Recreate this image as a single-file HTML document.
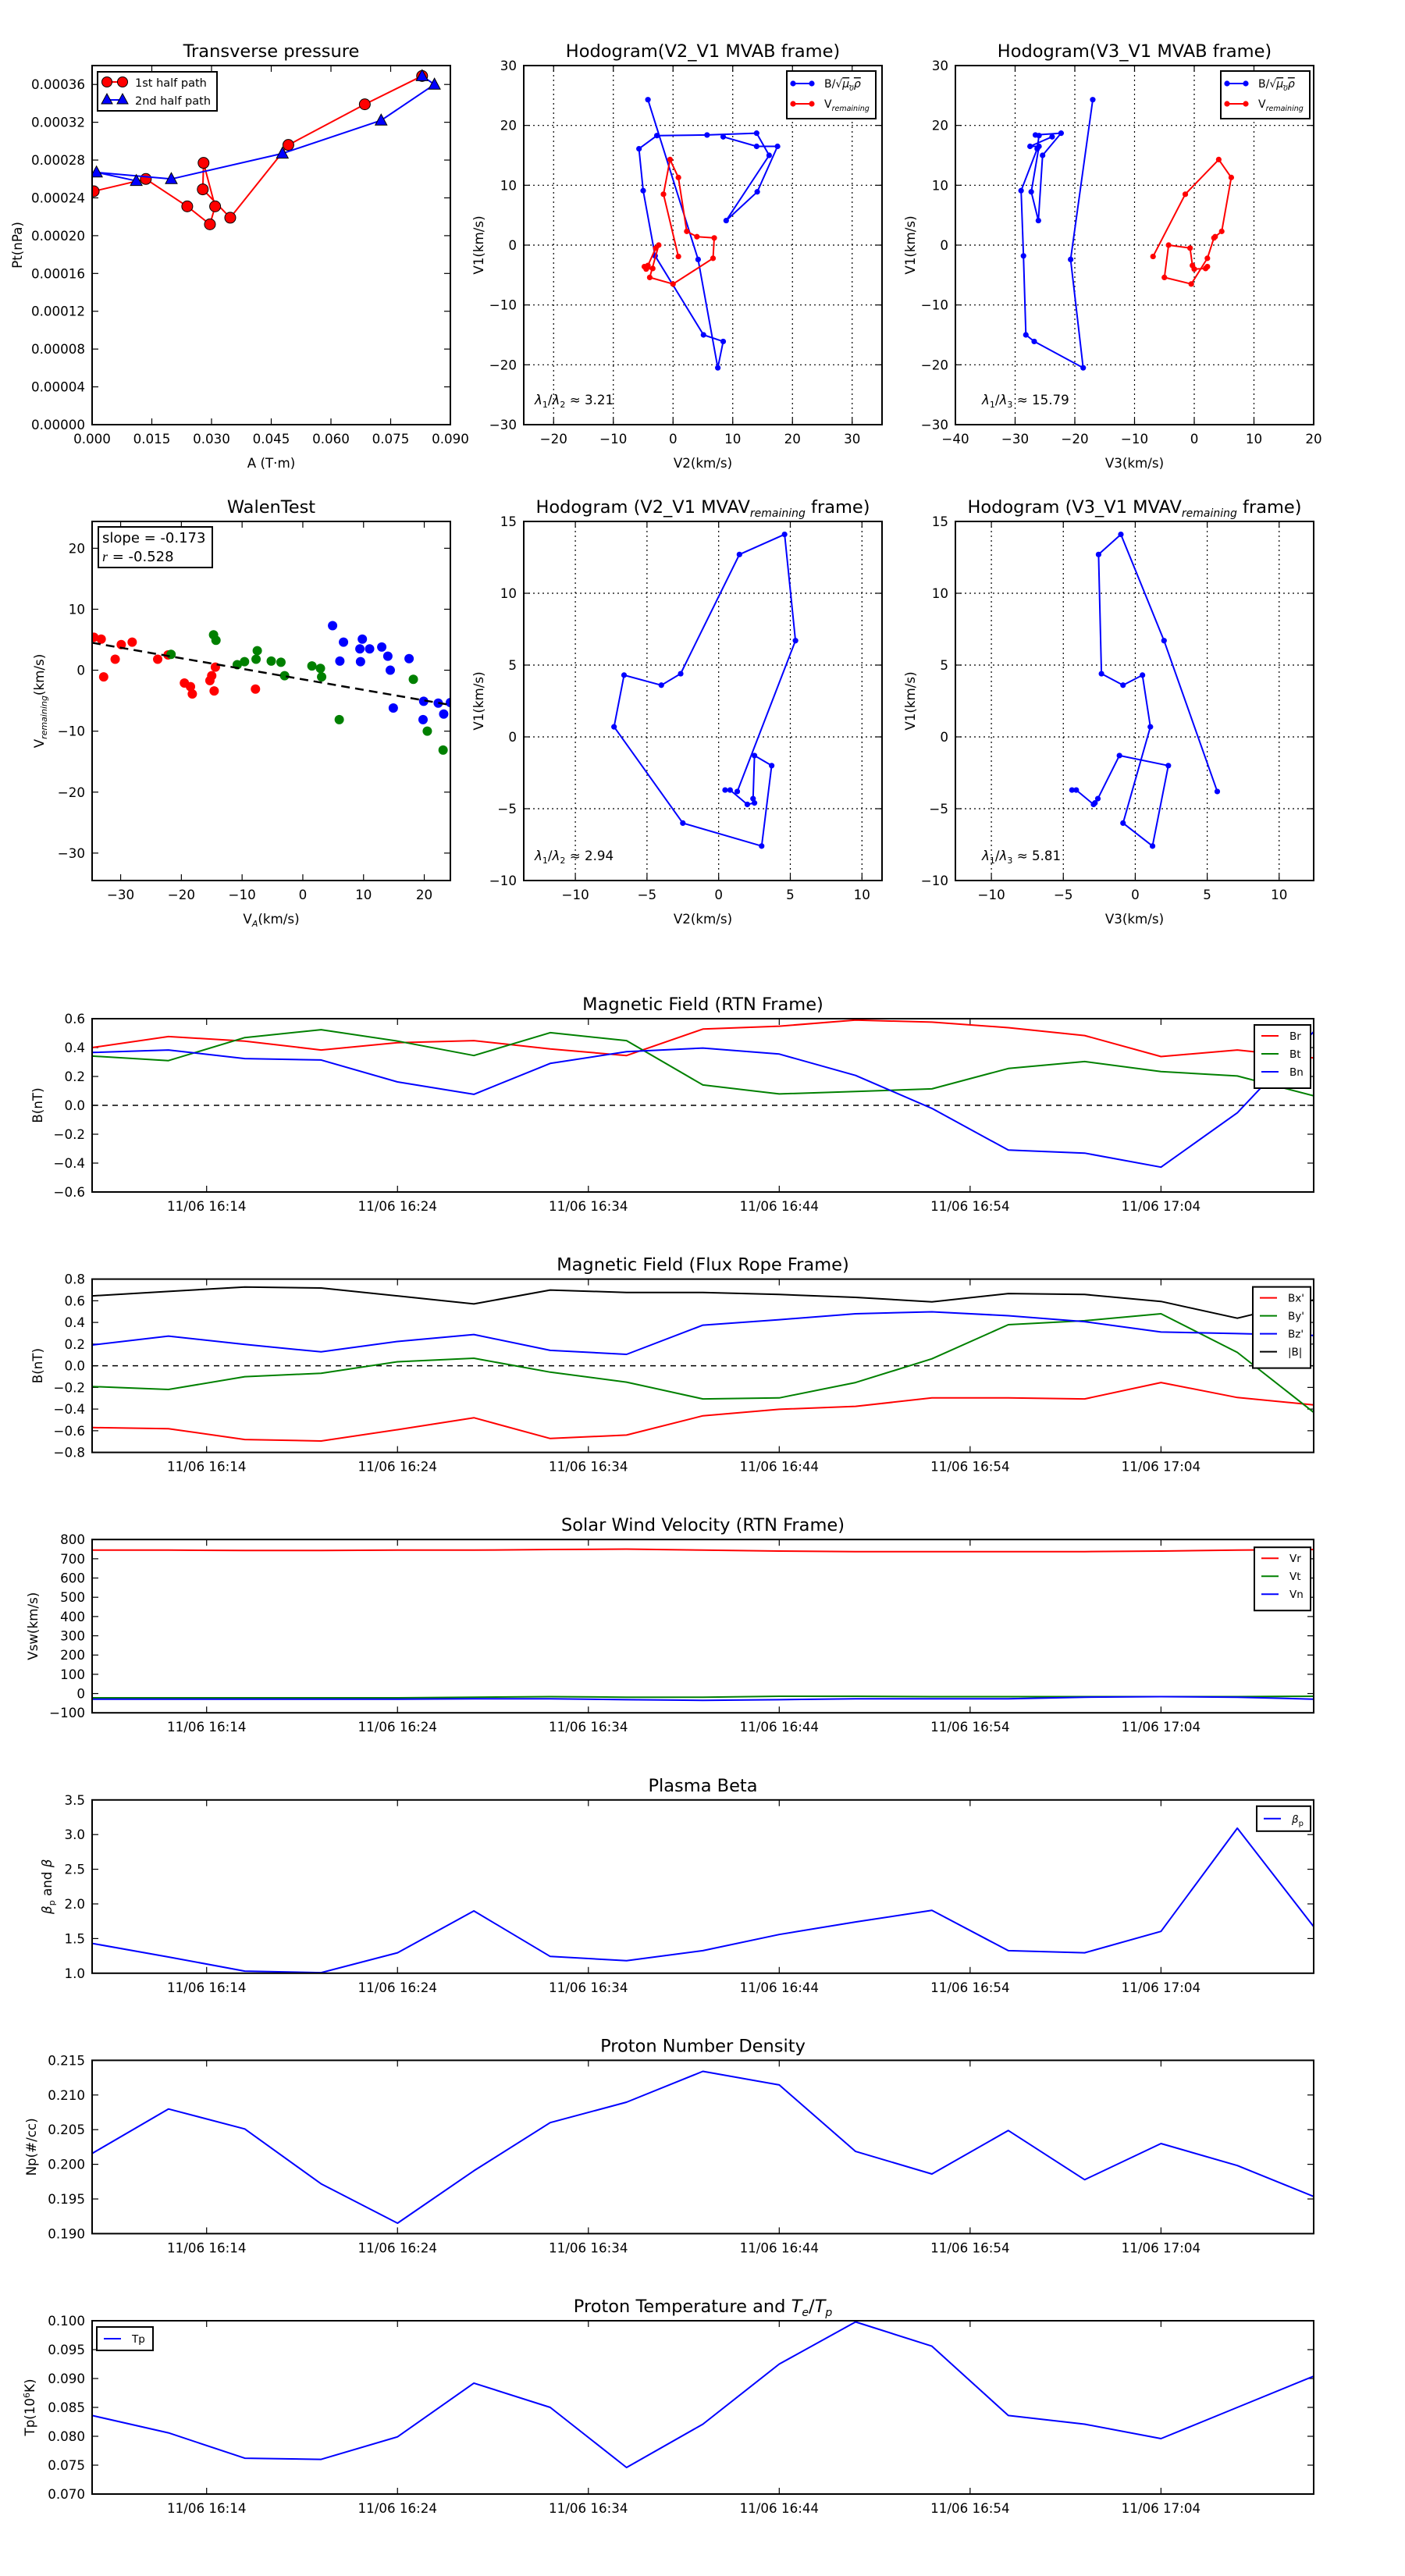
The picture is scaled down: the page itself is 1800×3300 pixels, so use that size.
<!DOCTYPE html>
<html>
<head>
<meta charset="utf-8">
<style>
html,body{margin:0;padding:0;background:#fff;}
svg{display:block;}
text{font-family:"DejaVu Sans","Liberation Sans",sans-serif;fill:#000;}
</style>
</head>
<body>
<svg id="fig" xmlns="http://www.w3.org/2000/svg" width="1800" height="3300" viewBox="0 0 1800 3300">
<rect x="0" y="0" width="1800" height="3300" fill="#fff"/>
</svg>
<script>
// ---------------- DATA ----------------
// Transverse pressure
const tpRedA = [0.0004,0.0135,0.0239,0.0296,0.0309,0.028,0.0278,0.0347,0.0493,0.0685,0.0829];
const tpRedP = [0.000247,0.00026,0.000231,0.000212,0.000231,0.000277,0.000249,0.000219,0.000296,0.000339,0.000369];
const tpBlueA = [0.0829,0.086,0.0726,0.0478,0.0199,0.0011,0.0111];
const tpBlueP = [0.000369,0.00036,0.000322,0.000287,0.00026,0.000267,0.000258];
const tpXLabels = ['0.000','0.015','0.030','0.045','0.060','0.075','0.090'];
const tpYLabels = ['0.00000','0.00004','0.00008','0.00012','0.00016','0.00020','0.00024','0.00028','0.00032','0.00036'];

// Hodogram MVAB
const hbV1 = [24.3,-2.4,-20.5,-16.1,-15,-1.8,9.1,16.1,18.3,18.4,18.7,15,4.1,8.9,16.5,16.5,18.1];
const hbV2 = [-4.2,4.2,7.5,8.4,5.1,-3,-5,-5.7,-2.7,5.7,14,16.1,8.9,14.1,17.5,14,8.4];
const hbV3 = [-17,-20.7,-18.6,-26.8,-28.2,-28.6,-29,-26.3,-26.0,-26.6,-22.3,-25.4,-26.1,-27.3,-26,-27.5,-23.8];
const hrV1 = [-1.9,8.5,14.3,11.3,2.3,1.4,1.2,-2.2,-6.5,-5.4,0,-0.5,-3.4,-4,-3.9,-3.6];
const hrV2 = [0.9,-1.6,-0.5,0.9,2.3,4,6.9,6.7,0,-3.9,-2.4,-2.9,-4.2,-4.5,-3.4,-4.8];
const hrV3 = [-6.9,-1.5,4.1,6.2,4.6,3.5,3.3,2.2,-0.5,-5,-4.3,-0.7,-0.3,0,1.9,2.2];
const h1XLabels = ['−20','−10','0','10','20','30'];
const h2XLabels = ['−40','−30','−20','−10','0','10','20'];
const h12YLabels = ['−30','−20','−10','0','10','20','30'];

// Hodogram MVAV
const hvV1 = [-3.7,-3.7,-4.7,-4.6,-4.3,-1.3,-2,-7.6,-6,0.7,4.3,3.6,4.4,12.7,14.1,6.7,-3.8];
const hvV2 = [0.45,0.8,2.0,2.5,2.4,2.5,3.7,3,-2.5,-7.3,-6.6,-4,-2.65,1.45,4.6,5.36,1.3];
const hvV3 = [-4.4,-4.1,-2.9,-2.8,-2.6,-1.1,2.3,1.2,-0.85,1.05,0.5,-0.85,-2.35,-2.55,-1,2,5.7];
const h34XLabels = ['−10','−5','0','5','10'];
const h34YLabels = ['−10','−5','0','5','10','15'];

// Walen test
const wRedX = [-34.4,-33.2,-32.8,-30.9,-29.9,-28.1,-23.9,-22.2,-19.5,-18.5,-18.2,-15.3,-15,-14.6,-14.4,-7.8];
const wRedY = [5.4,5.1,-1.1,1.8,4.2,4.6,1.8,2.5,-2.1,-2.7,-3.9,-1.7,-0.9,-3.4,0.5,-3.1];
const wGreenX = [-21.7,-14.7,-14.3,-10.8,-9.6,-7.7,-7.5,-5.2,-3.6,-3,1.5,2.9,3.1,6,18.2,20.5,23.1];
const wGreenY = [2.6,5.8,4.9,0.9,1.4,1.8,3.2,1.5,1.3,-0.9,0.7,0.3,-1.1,-8.1,-1.5,-10,-13.1];
const wBlueX = [4.9,6.7,6.1,9.4,9.8,9.5,11,13,14,14.4,14.9,17.5,19.9,19.8,22.3,23.2,24.3];
const wBlueY = [7.3,4.6,1.5,3.5,5.1,1.4,3.5,3.8,2.3,0,-6.2,1.9,-5.1,-8.1,-5.4,-7.2,-5.3];
const wSlope = [-0.173];
const wIntercept = [-1.5];
const wXLabels = ['−30','−20','−10','0','10','20'];
const wYLabels = ['−30','−20','−10','0','10','20'];

// Time series
const times = ['16:08','16:12','16:16','16:20','16:24','16:28','16:32','16:36','16:40','16:44','16:48','16:52','16:56','17:00','17:04','17:08','17:12'];
const timeTickLabels = ['11/06 16:14','11/06 16:24','11/06 16:34','11/06 16:44','11/06 16:54','11/06 17:04'];
const Br = [0.40,0.476,0.445,0.383,0.434,0.448,0.39,0.345,0.528,0.548,0.59,0.576,0.538,0.483,0.338,0.383,0.328];
const Bt = [0.341,0.31,0.469,0.524,0.445,0.345,0.503,0.448,0.141,0.079,0.096,0.114,0.255,0.303,0.234,0.203,0.066];
const Bn = [0.366,0.383,0.324,0.314,0.162,0.076,0.29,0.372,0.397,0.355,0.207,-0.021,-0.31,-0.331,-0.428,-0.052,0.51];
const rtnYLabels = ['−0.6','−0.4','−0.2','0.0','0.2','0.4','0.6'];
const Bx = [-0.571,-0.581,-0.681,-0.695,-0.59,-0.48,-0.672,-0.64,-0.462,-0.402,-0.375,-0.297,-0.297,-0.306,-0.155,-0.293,-0.361];
const By = [-0.192,-0.219,-0.101,-0.069,0.037,0.069,-0.059,-0.151,-0.306,-0.297,-0.155,0.064,0.379,0.416,0.48,0.123,-0.43];
const Bz = [0.192,0.274,0.197,0.128,0.224,0.288,0.142,0.105,0.375,0.425,0.48,0.498,0.462,0.407,0.311,0.297,0.28];
const Bmag = [0.645,0.686,0.727,0.718,0.645,0.571,0.699,0.677,0.677,0.658,0.631,0.59,0.667,0.658,0.594,0.439,0.608];
const fluxYLabels = ['−0.8','−0.6','−0.4','−0.2','0.0','0.2','0.4','0.6','0.8'];
const Vr = [745,745,743,743,745,745,748,750,745,740,737,737,737,737,740,745,748];
const Vt = [-22,-22,-22,-22,-22,-19,-16,-19,-19,-14,-14,-16,-16,-16,-16,-16,-14];
const Vn = [-29,-29,-29,-29,-29,-27,-27,-32,-35,-32,-27,-27,-27,-19,-16,-19,-29];
const swYLabels = ['−100','0','100','200','300','400','500','600','700','800'];
const betaP = [1.43,1.234,1.03,1.008,1.295,1.899,1.242,1.181,1.325,1.559,1.74,1.906,1.325,1.295,1.604,3.092,1.672];
const betaYLabels = ['1.0','1.5','2.0','2.5','3.0','3.5'];
const Np = [0.20156,0.20798,0.2051,0.19718,0.19151,0.19906,0.20601,0.20896,0.21341,0.21145,0.20186,0.1986,0.20488,0.19778,0.20299,0.19982,0.19536];
const npYLabels = ['0.190','0.195','0.200','0.205','0.210','0.215'];
const Tp = [0.0836,0.0806,0.0762,0.0760,0.0799,0.0892,0.0850,0.0746,0.0821,0.0925,0.0998,0.0956,0.0836,0.0821,0.0796,0.0850,0.0904];
const tpTYLabels = ['0.070','0.075','0.080','0.085','0.090','0.095','0.100'];

// ---------------- DRAWING ----------------
const NS = 'http://www.w3.org/2000/svg';
const svg = document.getElementById('fig');
const RED = '#ff0000', GREEN = '#008000', BLUE = '#0000ff';
let clipId = 0;
function mk(tag, attrs, parent) {
  const e = document.createElementNS(NS, tag);
  for (const k in attrs) e.setAttribute(k, attrs[k]);
  (parent || svg).appendChild(e);
  return e;
}
function num(s) { return parseFloat(String(s).replace('−', '-')); }
function tmin(s) { const p = s.split(':'); return (+p[0]) * 60 + (+p[1]) - (16 * 60 + 8); }

function axes(o) {
  const g = mk('g', {});
  
  
  const sx = v => o.x0 + (v - o.xmin) / (o.xmax - o.xmin) * o.w;
  const sy = v => o.y0 + o.h - (v - o.ymin) / (o.ymax - o.ymin) * o.h;
  const id = 'clip' + (clipId++);
  const cp = mk('clipPath', {id: id}, g);
  mk('rect', {x: o.x0, y: o.y0, width: o.w, height: o.h}, cp);
  const gridG = mk('g', {}, g);
  const xt = o.xticks, yt = o.yticks;
  xt.forEach((v, i) => {
    const x = sx(v);
    if (o.grid) {
      const gl = mk('line', {x1: x, y1: o.y0, x2: x, y2: o.y0 + o.h, stroke: '#000', 'stroke-width': 1.2, 'stroke-dasharray': '2,4'}, gridG);
      
      
    }
    const t1 = mk('line', {x1: x, y1: o.y0 + o.h, x2: x, y2: o.y0 + o.h - 8, stroke: '#000', 'stroke-width': 1.2}, g);
    
    
    const t2 = mk('line', {x1: x, y1: o.y0, x2: x, y2: o.y0 + 8, stroke: '#000', 'stroke-width': 1.2}, g);
    
    
    const tl = mk('text', {x: x, y: o.y0 + o.h + 24, 'font-size': 16.7, 'text-anchor': 'middle'}, g);
    tl.textContent = o.xlabels[i];
    
    
  });
  yt.forEach((v, i) => {
    const y = sy(v);
    if (o.grid) {
      const gl = mk('line', {x1: o.x0, y1: y, x2: o.x0 + o.w, y2: y, stroke: '#000', 'stroke-width': 1.2, 'stroke-dasharray': '2,4'}, gridG);
      
      
    }
    const t1 = mk('line', {x1: o.x0, y1: y, x2: o.x0 + 8, y2: y, stroke: '#000', 'stroke-width': 1.2}, g);
    
    
    const t2 = mk('line', {x1: o.x0 + o.w, y1: y, x2: o.x0 + o.w - 8, y2: y, stroke: '#000', 'stroke-width': 1.2}, g);
    
    
    const tl = mk('text', {x: o.x0 - 9, y: y + 6, 'font-size': 16.7, 'text-anchor': 'end'}, g);
    tl.textContent = o.ylabels[i];
    
    
  });
  const plot = mk('g', {'clip-path': 'url(#' + id + ')'}, g);
  const frame = mk('rect', {x: o.x0, y: o.y0, width: o.w, height: o.h, fill: 'none', stroke: '#000', 'stroke-width': 2}, g);
  
  
  const tt = mk('text', {x: o.x0 + o.w / 2, y: o.y0 - 11, 'font-size': 22.5, 'text-anchor': 'middle'}, g);
  tt.innerHTML = o.title;
  
  
  if (o.xlabel) {
    const xl = mk('text', {x: o.x0 + o.w / 2, y: o.y0 + o.h + 55, 'font-size': 16.7, 'text-anchor': 'middle'}, g);
    xl.innerHTML = o.xlabel;
    
    
  }
  if (o.ylabel) {
    const yx = o.ylabX, yy = o.y0 + o.h / 2;
    const yl = mk('text', {x: yx, y: yy, 'font-size': 16.7, 'text-anchor': 'middle', transform: 'rotate(-90 ' + yx + ' ' + yy + ')', dy: 6}, g);
    yl.innerHTML = o.ylabel;
    
    
  }
  return {sx, sy, g, plot};
}

function polyline(ax, xs, ys, color, name, width) {
  const pts = xs.map((v, i) => ax.sx(v).toFixed(1) + ',' + ax.sy(ys[i]).toFixed(1)).join(' ');
  const p = mk('polyline', {points: pts, fill: 'none', stroke: color, 'stroke-width': width || 2, 'stroke-linejoin': 'round'}, ax.plot);
  
  
  return p;
}
function dots(ax, xs, ys, color, name, r, stroke) {
  xs.forEach((v, i) => {
    const c = mk('circle', {cx: ax.sx(v), cy: ax.sy(ys[i]), r: r, fill: color, stroke: stroke || 'none', 'stroke-width': 1}, ax.plot);
    
    
  });
}
function tris(ax, xs, ys, color, name) {
  xs.forEach((v, i) => {
    const x = ax.sx(v), y = ax.sy(ys[i]);
    const t = mk('polygon', {points: (x) + ',' + (y - 8) + ' ' + (x - 7.5) + ',' + (y + 6) + ' ' + (x + 7.5) + ',' + (y + 6), fill: color, stroke: '#000', 'stroke-width': 1}, ax.plot);
    
    
  });
}
function legendBox(x, y, w, h, name) {
  const r = mk('rect', {x: x, y: y, width: w, height: h, fill: '#fff', stroke: '#000', 'stroke-width': 2});
  
  
}
function legendLine(x1, x2, y, color, name, marker) {
  const l = mk('line', {x1: x1, y1: y, x2: x2, y2: y, stroke: color, 'stroke-width': 2});
  
  
  if (marker) {
    [x1, x2].forEach(xx => {
      const c = mk('circle', {cx: xx, cy: y, r: marker, fill: color});
      
      
    });
  }
}
function legendText(x, y, html, size, name) {
  const t = mk('text', {x: x, y: y, 'font-size': size});
  t.innerHTML = html;
  
  
}
const sqrtLbl = 'B/√<tspan font-style="italic" text-decoration="overline">μ<tspan font-size="9" dy="4">0</tspan><tspan dy="-4">ρ</tspan></tspan>';
const vremLbl = 'V<tspan font-style="italic" font-size="9.5" dy="4">remaining</tspan>';

// ---- Row 1 ----
const R1 = 84, R2 = 668, H = 460, W = 459;
const C1 = 118, C2 = 671, C3 = 1224;

// Transverse pressure
const ax1 = axes({name: 'transverse-pressure', x0: C1, y0: R1, w: W, h: H, xmin: 0, xmax: 0.09, ymin: 0, ymax: 0.00038,
  xticks: tpXLabels.map(num), xlabels: tpXLabels, yticks: tpYLabels.map(num), ylabels: tpYLabels,
  title: 'Transverse pressure', xlabel: 'A (T·m)', ylabel: 'Pt(nPa)', ylabX: 22});
polyline(ax1, tpRedA, tpRedP, RED, 'first-half-path-line');
dots(ax1, tpRedA, tpRedP, RED, 'first-half-path-point', 7, '#000');
polyline(ax1, tpBlueA, tpBlueP, BLUE, 'second-half-path-line');
tris(ax1, tpBlueA, tpBlueP, BLUE, 'second-half-path-point');
legendBox(125, 92, 153, 50, 'transverse-pressure-legend');
legendLine(137, 157, 105, RED, 'legend-first-half', 0);
[137, 157].forEach(xx => { const c = mk('circle', {cx: xx, cy: 105, r: 6.5, fill: RED, stroke: '#000'});   });
legendLine(137, 157, 128, BLUE, 'legend-second-half', 0);
[137, 157].forEach(xx => { const t = mk('polygon', {points: xx + ',' + 120 + ' ' + (xx - 7) + ',' + 133 + ' ' + (xx + 7) + ',' + 133, fill: BLUE, stroke: '#000'});   });
legendText(173, 111, '1st half path', 14.5, 'legend-first-half-label');
legendText(173, 134, '2nd half path', 14.5, 'legend-second-half-label');

// Hodogram V2_V1 MVAB
const ax2 = axes({name: 'hodogram-v2-v1-mvab', x0: C2, y0: R1, w: W, h: H, xmin: -25, xmax: 35, ymin: -30, ymax: 30, grid: true,
  xticks: h1XLabels.map(num), xlabels: h1XLabels, yticks: h12YLabels.map(num), ylabels: h12YLabels,
  title: 'Hodogram(V2_V1 MVAB frame)', xlabel: 'V2(km/s)', ylabel: 'V1(km/s)', ylabX: C2 - 58});
polyline(ax2, hbV2, hbV1, BLUE, 'b-alfven-path');
dots(ax2, hbV2, hbV1, BLUE, 'b-alfven-point', 3.6);
polyline(ax2, hrV2, hrV1, RED, 'v-remaining-path');
dots(ax2, hrV2, hrV1, RED, 'v-remaining-point', 3.6);
legendBox(C2 + 337, 91, 114, 61, 'hodogram-v2-legend');
legendLine(C2 + 345, C2 + 369, 107, BLUE, 'legend-b-alfven', 3.6);
legendText(C2 + 385, 112, sqrtLbl, 14, 'legend-b-alfven-label');
legendLine(C2 + 345, C2 + 369, 133, RED, 'legend-v-remaining', 3.6);
legendText(C2 + 385, 138, vremLbl, 14, 'legend-v-remaining-label');
legendText(C2 + 14, 518, '<tspan font-style="italic">λ</tspan><tspan font-size="11" dy="4">1</tspan><tspan dy="-4">/</tspan><tspan font-style="italic">λ</tspan><tspan font-size="11" dy="4">2</tspan><tspan dy="-4"> ≈ 3.21</tspan>', 16.7, 'lambda-ratio-v2');

// Hodogram V3_V1 MVAB
const ax3 = axes({name: 'hodogram-v3-v1-mvab', x0: C3, y0: R1, w: W, h: H, xmin: -40, xmax: 20, ymin: -30, ymax: 30, grid: true,
  xticks: h2XLabels.map(num), xlabels: h2XLabels, yticks: h12YLabels.map(num), ylabels: h12YLabels,
  title: 'Hodogram(V3_V1 MVAB frame)', xlabel: 'V3(km/s)', ylabel: 'V1(km/s)', ylabX: C3 - 58});
polyline(ax3, hbV3, hbV1, BLUE, 'b-alfven-path');
dots(ax3, hbV3, hbV1, BLUE, 'b-alfven-point', 3.6);
polyline(ax3, hrV3, hrV1, RED, 'v-remaining-path');
dots(ax3, hrV3, hrV1, RED, 'v-remaining-point', 3.6);
legendBox(C3 + 340, 91, 114, 61, 'hodogram-v3-legend');
legendLine(C3 + 348, C3 + 372, 107, BLUE, 'legend-b-alfven', 3.6);
legendText(C3 + 388, 112, sqrtLbl, 14, 'legend-b-alfven-label');
legendLine(C3 + 348, C3 + 372, 133, RED, 'legend-v-remaining', 3.6);
legendText(C3 + 388, 138, vremLbl, 14, 'legend-v-remaining-label');
legendText(C3 + 34, 518, '<tspan font-style="italic">λ</tspan><tspan font-size="11" dy="4">1</tspan><tspan dy="-4">/</tspan><tspan font-style="italic">λ</tspan><tspan font-size="11" dy="4">3</tspan><tspan dy="-4"> ≈ 15.79</tspan>', 16.7, 'lambda-ratio-v3');

// ---- Row 2 ----
// Walen test
const ax4 = axes({name: 'walen-test', x0: C1, y0: R2, w: W, h: H, xmin: -34.7, xmax: 24.3, ymin: -34.5, ymax: 24.4,
  xticks: wXLabels.map(num), xlabels: wXLabels, yticks: wYLabels.map(num), ylabels: wYLabels,
  title: 'WalenTest', xlabel: 'V<tspan font-style="italic" font-size="11" dy="4">A</tspan><tspan dy="-4">(km/s)</tspan>',
  ylabel: 'V<tspan font-style="italic" font-size="11" dy="4">remaining</tspan><tspan dy="-4">(km/s)</tspan>', ylabX: 50});
dots(ax4, wRedX, wRedY, RED, 'walen-point-red', 6);
dots(ax4, wGreenX, wGreenY, GREEN, 'walen-point-green', 6);
dots(ax4, wBlueX, wBlueY, BLUE, 'walen-point-blue', 6);
const fitX = [-34.7, 24.3];
const fl = mk('line', {x1: ax4.sx(fitX[0]), y1: ax4.sy(wIntercept[0] + wSlope[0] * fitX[0]), x2: ax4.sx(fitX[1]), y2: ax4.sy(wIntercept[0] + wSlope[0] * fitX[1]), stroke: '#000', 'stroke-width': 2.5, 'stroke-dasharray': '11,7'}, ax4.plot);


legendBox(126, R2 + 7, 146, 52, 'walen-stats-box');
legendText(131, R2 + 27, 'slope = -0.173', 18, 'walen-slope-text');
legendText(131, R2 + 51, '<tspan font-style="italic" font-family="Liberation Serif, serif">r</tspan> = -0.528', 18, 'walen-r-text');

// Hodogram V2_V1 MVAV
const ax5 = axes({name: 'hodogram-v2-v1-mvav', x0: C2, y0: R2, w: W, h: H, xmin: -13.6, xmax: 11.4, ymin: -10, ymax: 15, grid: true,
  xticks: h34XLabels.map(num), xlabels: h34XLabels, yticks: h34YLabels.map(num), ylabels: h34YLabels,
  title: 'Hodogram (V2_V1 MVAV<tspan font-style="italic" font-size="14" dy="5">remaining</tspan><tspan dy="-5"> frame)</tspan>', xlabel: 'V2(km/s)', ylabel: 'V1(km/s)', ylabX: C2 - 58});
polyline(ax5, hvV2, hvV1, BLUE, 'mvav-path');
dots(ax5, hvV2, hvV1, BLUE, 'mvav-point', 3.6);
legendText(C2 + 14, R2 + 434, '<tspan font-style="italic">λ</tspan><tspan font-size="11" dy="4">1</tspan><tspan dy="-4">/</tspan><tspan font-style="italic">λ</tspan><tspan font-size="11" dy="4">2</tspan><tspan dy="-4"> ≈ 2.94</tspan>', 16.7, 'lambda-ratio-mvav-v2');

// Hodogram V3_V1 MVAV
const ax6 = axes({name: 'hodogram-v3-v1-mvav', x0: C3, y0: R2, w: W, h: H, xmin: -12.5, xmax: 12.4, ymin: -10, ymax: 15, grid: true,
  xticks: h34XLabels.map(num), xlabels: h34XLabels, yticks: h34YLabels.map(num), ylabels: h34YLabels,
  title: 'Hodogram (V3_V1 MVAV<tspan font-style="italic" font-size="14" dy="5">remaining</tspan><tspan dy="-5"> frame)</tspan>', xlabel: 'V3(km/s)', ylabel: 'V1(km/s)', ylabX: C3 - 58});
polyline(ax6, hvV3, hvV1, BLUE, 'mvav-path');
dots(ax6, hvV3, hvV1, BLUE, 'mvav-point', 3.6);
legendText(C3 + 34, R2 + 434, '<tspan font-style="italic">λ</tspan><tspan font-size="11" dy="4">1</tspan><tspan dy="-4">/</tspan><tspan font-style="italic">λ</tspan><tspan font-size="11" dy="4">3</tspan><tspan dy="-4"> ≈ 5.81</tspan>', 16.7, 'lambda-ratio-mvav-v3');

// ---- Time series ----
const TL = 118, TW = 1565, TH = 222;
const tops = [1305, 1638.6, 1972.2, 2305.8, 2639.4, 2973];
const tx = times.map(tmin);
const tTicks = timeTickLabels.map(s => tmin(s.split(' ')[1]));
function tsAxes(name, top, yl, title, ylabel, ylabX) {
  const v = yl.map(num);
  return axes({name: name, x0: TL, y0: top, w: TW, h: TH, xmin: 0, xmax: 64, ymin: v[0], ymax: v[v.length - 1],
    xticks: tTicks, xlabels: timeTickLabels, yticks: v, ylabels: yl, title: title, ylabel: ylabel, ylabX: ylabX});
}
function zeroLine(ax, name) {
  const l = mk('line', {x1: ax.sx(0), y1: ax.sy(0), x2: ax.sx(64), y2: ax.sy(0), stroke: '#000', 'stroke-width': 1.5, 'stroke-dasharray': '7,6'}, ax.plot);
  
  
}
function tsLegend(name, top, x, entries, w) {
  const h = 12 + entries.length * 23;
  legendBox(x, top, w, h, name);
  entries.forEach((e, i) => {
    const y = top + 14 + i * 23;
    legendLine(x + 9, x + 31, y, e[1], name + '-' + e[2]);
    legendText(x + 45, y + 5, e[0], 13.5, name + '-' + e[2] + '-label');
  });
}

const a7 = tsAxes('magnetic-field-rtn', tops[0], rtnYLabels, 'Magnetic Field (RTN Frame)', 'B(nT)', 48);
zeroLine(a7, 'rtn-zero-line');
polyline(a7, tx, Br, RED, 'br-line');
polyline(a7, tx, Bt, GREEN, 'bt-line');
polyline(a7, tx, Bn, BLUE, 'bn-line');
tsLegend('rtn-legend', tops[0] + 8, 1607, [['Br', RED, 'br'], ['Bt', GREEN, 'bt'], ['Bn', BLUE, 'bn']], 72);

const a8 = tsAxes('magnetic-field-flux-rope', tops[1], fluxYLabels, 'Magnetic Field (Flux Rope Frame)', 'B(nT)', 48);
zeroLine(a8, 'flux-zero-line');
polyline(a8, tx, Bx, RED, 'bx-line');
polyline(a8, tx, By, GREEN, 'by-line');
polyline(a8, tx, Bz, BLUE, 'bz-line');
polyline(a8, tx, Bmag, '#000', 'bmag-line');
tsLegend('flux-legend', tops[1] + 10, 1605, [["Bx'", RED, 'bx'], ["By'", GREEN, 'by'], ["Bz'", BLUE, 'bz'], ['|B|', '#000', 'bmag']], 74);

const a9 = tsAxes('solar-wind-velocity', tops[2], swYLabels, 'Solar Wind Velocity (RTN Frame)', 'Vsw(km/s)', 42);
polyline(a9, tx, Vr, RED, 'vr-line');
polyline(a9, tx, Vt, GREEN, 'vt-line');
polyline(a9, tx, Vn, BLUE, 'vn-line');
tsLegend('sw-legend', tops[2] + 10, 1607, [['Vr', RED, 'vr'], ['Vt', GREEN, 'vt'], ['Vn', BLUE, 'vn']], 72);

const a10 = tsAxes('plasma-beta', tops[3], betaYLabels, 'Plasma Beta', '<tspan font-style="italic">β</tspan><tspan font-size="11" dy="4">p</tspan><tspan dy="-4"> and </tspan><tspan font-style="italic">β</tspan>', 60);
polyline(a10, tx, betaP, BLUE, 'beta-p-line');
legendBox(1610, tops[3] + 8, 69, 32, 'beta-legend');
legendLine(1619, 1641, tops[3] + 24, BLUE, 'beta-legend-entry');
legendText(1655, tops[3] + 29, '<tspan font-style="italic">β</tspan><tspan font-size="10" dy="4">p</tspan>', 13.5, 'beta-legend-label');

const a11 = tsAxes('proton-number-density', tops[4], npYLabels, 'Proton Number Density', 'Np(#/cc)', 40);
polyline(a11, tx, Np, BLUE, 'np-line');

const a12 = tsAxes('proton-temperature', tops[5], tpTYLabels, 'Proton Temperature and <tspan font-style="italic">T</tspan><tspan font-style="italic" font-size="14" dy="5">e</tspan><tspan dy="-5">/</tspan><tspan font-style="italic">T</tspan><tspan font-style="italic" font-size="14" dy="5">p</tspan>', 'Tp(10<tspan font-size="11" dy="-6">6</tspan><tspan dy="6">K)</tspan>', 38);
polyline(a12, tx, Tp, BLUE, 'tp-line');
legendBox(124, tops[5] + 8, 72, 30, 'tp-legend');
legendLine(133, 155, tops[5] + 23, BLUE, 'tp-legend-entry');
legendText(169, tops[5] + 28, 'Tp', 13.5, 'tp-legend-label');
</script>
</body>
</html>
